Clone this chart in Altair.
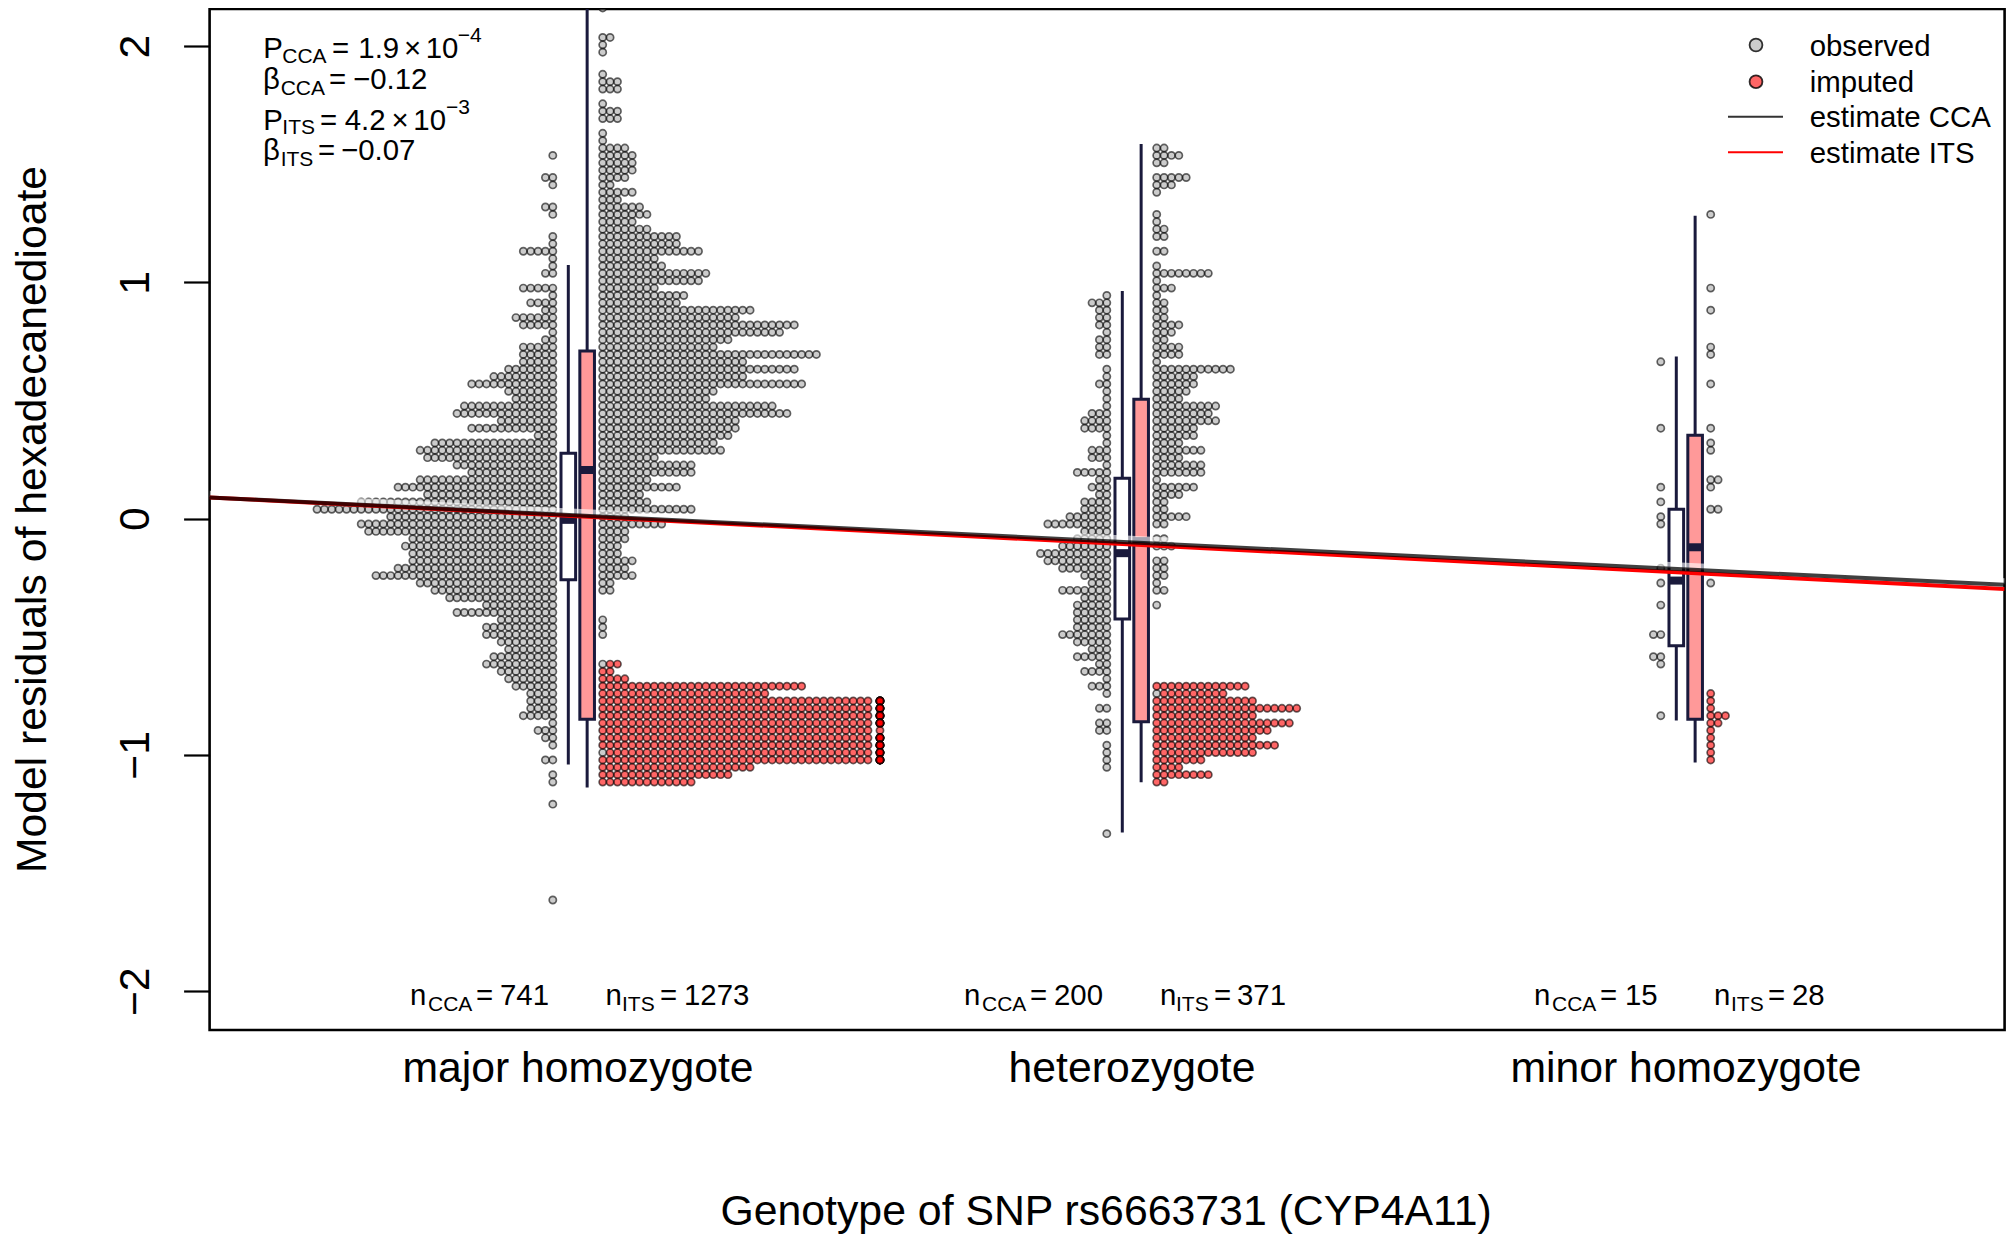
import altair as alt
import pandas as pd

alt.data_transformers.disable_max_rows()

# Bin grid of the dot stacks (value of bin 0 and height of one bin)
BIN_ZERO = 0.0398
BIN_WIDTH = 0.0312

categories = ["major homozygote", "heterozygote", "minor homozygote"]

# bin index -> number of dots
major_obs_left = {48:1,45:2,44:1,41:2,40:1,37:1,36:1,35:5,34:1,33:1,32:2,30:5,29:1,28:4,27:2,26:6,25:5,24:1,23:2,22:5,21:5,20:5,
    19:7,18:9,17:12,16:7,15:6,14:13,13:14,12:8,11:12,10:3,9:17,8:19,7:18,6:14,5:12,4:19,3:22,2:18,1:27,0:33,-1:23,-2:27,-3:26,
    -4:20,-5:21,-6:20,-7:20,-8:22,-9:25,-10:19,-11:17,-12:15,-13:10,-14:14,-15:8,-16:10,-17:10,-18:8,-19:7,-20:9,-21:10,-22:8,
    -23:7,-24:6,-25:4,-26:4,-27:4,-28:5,-29:1,-30:3,-31:2,-32:1,-34:2,-36:1,-37:1,-40:1,-53:1}
major_obs_right = {68:1,64:2,63:1,62:1,59:1,58:3,57:3,55:1,54:3,53:3,51:1,50:1,49:4,48:5,47:5,46:5,45:4,44:2,43:5,42:3,41:6,40:7,
    39:5,38:7,37:11,36:11,35:14,34:8,33:9,32:15,31:14,30:8,29:12,28:11,27:21,26:19,25:27,24:25,23:18,22:16,21:30,20:20,19:27,
    18:20,17:28,16:16,15:15,14:24,13:26,12:19,11:19,10:18,9:16,8:17,7:8,6:13,5:13,4:7,3:11,2:6,1:7,0:13,-1:4,-2:9,-3:4,-4:4,
    -5:3,-6:3,-7:5,-8:4,-9:5,-10:2,-11:2,-15:1,-16:1,-17:1,-21:1,-33:1}
major_imp = {-21:2,-22:2,-23:4,-24:28,-25:23,-26:37,-27:37,-28:37,-29:37,-30:37,-31:37,-32:37,-33:36,-34:37,-35:21,-36:18,-37:13}
major_overflow = {-26:7,-27:7,-28:7,-29:7,-30:1,-31:7,-32:7,-33:7,-34:7}

het_obs_left = {29:1,28:3,27:2,26:2,25:2,24:1,23:2,22:2,21:2,19:1,18:1,17:2,16:1,15:1,14:1,13:3,12:4,11:4,10:1,9:1,8:3,7:3,6:1,
    5:5,4:2,3:3,2:2,1:4,0:4,-1:6,-2:9,-3:4,-4:5,-5:7,-6:10,-7:9,-8:7,-9:4,-10:3,-11:7,-12:4,-13:5,-14:5,-15:5,-16:5,-17:7,-18:5,
    -19:3,-20:5,-21:2,-22:4,-23:1,-24:3,-25:1,-27:2,-29:2,-30:2,-32:1,-33:1,-34:1,-35:1,-44:1}
het_obs_right = {49:2,48:4,47:2,45:5,44:3,43:1,40:1,39:1,38:2,37:2,35:2,33:1,32:8,31:1,30:3,29:1,28:2,27:2,26:2,25:4,24:3,23:2,
    22:4,21:4,20:1,19:11,18:6,17:6,16:5,15:4,14:9,13:8,12:9,11:6,10:6,9:4,8:7,7:4,6:7,5:7,4:1,3:6,2:4,1:2,0:2,-1:5,-2:2,-4:2,-5:3,
    -7:2,-8:2,-9:2,-10:1,-11:2,-13:1,-25:1}
het_imp = {-24:13,-25:9,-26:14,-27:20,-28:14,-29:19,-30:16,-31:14,-32:17,-33:14,-34:7,-35:4,-36:8,-37:2}

minor_obs_left = {20:1,11:1,3:1,1:1,-1:1,-2:1,-8:1,-10:1,-13:1,-17:2,-20:2,-21:1,-28:1}
minor_obs_right = {40:1,30:1,27:1,22:1,21:1,17:1,11:1,9:1,8:1,4:2,3:1,0:2,-10:1}
minor_imp = {-25:1,-26:1,-27:1,-28:3,-29:2,-30:1,-31:1,-32:1,-33:1,-34:1}

# box summaries: CCA then ITS for each genotype
box_group = [1, 1, 2, 2, 3, 3]
box_kind = ["CCA", "ITS", "CCA", "ITS", "CCA", "ITS"]
whisker_top = [1.067, 2.5, 0.957, 1.579, 0.680, 1.276]
box_q3 = [0.277, 0.710, 0.171, 0.505, 0.040, 0.353]
box_median = [-0.005, 0.206, -0.146, -0.095, -0.262, -0.121]
box_q1 = [-0.259, -0.849, -0.425, -0.859, -0.538, -0.849]
whisker_bottom = [-1.034, -1.131, -1.322, -1.109, -0.848, -1.026]

line_x = [0.3359, 3.576]
line_cca = [0.090, -0.280]
line_its = [0.090, -0.298]
line_halo = [0.105, -0.265]

X_DOMAIN = line_x
Y_DOMAIN = [-2.164, 2.157]
PLOT_W, PLOT_H = 1795, 1021
OX, OY = 209.6, 9

COL = 0.0133
LEFT0, RIGHT0 = -0.0446, 0.0455
OVERFLOW = 0.546
CCA_DX, ITS_DX, HALF = -0.0166, 0.0174, 0.0132
NAVY = "#1a1a3c"
FONT = "Liberation Sans"

rows = []
def stack(group, counts, start, sign, kind, base=None):
    for b, n in counts.items():
        first = base.get(b, 0) if base else 0
        for i in range(n):
            rows.append({"x": group + sign * (start + (first + i) * COL),
                         "y": BIN_ZERO + BIN_WIDTH * b, "kind": kind})

stack(1, major_obs_left, -LEFT0, -1, "observed")
stack(1, major_obs_right, RIGHT0, 1, "observed")
stack(1, major_imp, RIGHT0, 1, "imputed", major_obs_right)
stack(2, het_obs_left, -LEFT0, -1, "observed")
stack(2, het_obs_right, RIGHT0, 1, "observed")
stack(2, het_imp, RIGHT0, 1, "imputed", het_obs_right)
stack(3, minor_obs_left, -LEFT0, -1, "observed")
stack(3, minor_obs_right, RIGHT0, 1, "observed")
stack(3, minor_imp, RIGHT0, 1, "imputed", minor_obs_right)
for b, n in major_overflow.items():
    for _ in range(n):
        rows.append({"x": 1 + OVERFLOW, "y": BIN_ZERO + BIN_WIDTH * b, "kind": "imputed"})
dots = pd.DataFrame(rows)

boxes = pd.DataFrame({"g": box_group, "kind": box_kind, "wt": whisker_top, "q3": box_q3,
                      "med": box_median, "q1": box_q1, "wb": whisker_bottom})
boxes["cx"] = boxes.g + boxes.kind.map({"CCA": CCA_DX, "ITS": ITS_DX})
boxes["x1"] = boxes.cx - HALF
boxes["x2"] = boxes.cx + HALF

xs = alt.Scale(domain=X_DOMAIN, nice=False, zero=False)
ys = alt.Scale(domain=Y_DOMAIN, nice=False, zero=False)

label_expr = "[" + ",".join(f"'{c}'" for c in categories) + "][datum.value-1]"
X = alt.X("x:Q", scale=xs, axis=alt.Axis(values=[1, 2, 3], labelExpr=label_expr, ticks=False, domain=False,
          grid=False, labelFontSize=42.7, labelFont=FONT, labelColor="black", labelPadding=18, labelOverlap=False,
          labelLimit=800, title="Genotype of SNP rs6663731 (CYP4A11)", titleFontSize=42.8, titleFont=FONT,
          titleFontWeight="normal", titleColor="black", titleX=896, titleY=195, titleAlign="center",
          titleAnchor="middle", titleBaseline="alphabetic"))
Y = alt.Y("y:Q", scale=ys, axis=alt.Axis(values=[-2, -1, 0, 1, 2], labelAngle=270, labelAlign="center",
          labelBaseline="alphabetic",
          labelExpr="datum.value < 0 ? '\u2212' + abs(datum.value) : '' + datum.value",
          tickSize=26, tickWidth=2.2, tickColor="black", domain=False, grid=False, labelFontSize=42.7, labelFont=FONT,
          labelColor="black", labelPadding=35, title="Model residuals of hexadecanedioate", titleFontSize=42.7,
          titleFont=FONT, titleFontWeight="normal", titleColor="black", titleX=-164, titleY=510, titleAngle=270,
          titleAlign="center", titleAnchor="middle", titleBaseline="alphabetic"))

def pts(kind, color, op):
    return alt.Chart(dots[dots.kind == kind]).mark_point(
        shape="circle", filled=False, fill=color, fillOpacity=op, stroke="black", strokeOpacity=0.6,
        strokeWidth=1.7, size=52, clip=True).encode(x=X, y=Y)

observed = pts("observed", "#808080", 0.4)
imputed = pts("imputed", "#ff0000", 0.6)

whisk = alt.Chart(boxes).mark_rule(color=NAVY, strokeWidth=3, strokeCap="square", clip=True).encode(
    x=alt.X("cx:Q", scale=xs), y=alt.Y("wb:Q", scale=ys), y2="wt:Q")
rect = alt.Chart(boxes).mark_rect(stroke=NAVY, strokeWidth=3, clip=True).encode(
    x=alt.X("x1:Q", scale=xs), x2="x2:Q", y=alt.Y("q1:Q", scale=ys), y2="q3:Q",
    fill=alt.Fill("kind:N", scale=alt.Scale(domain=["CCA", "ITS"], range=["#ffffff", "#ff9999"]), legend=None))
med = alt.Chart(boxes).mark_rule(color=NAVY, strokeWidth=8).encode(
    x=alt.X("x1:Q", scale=xs), x2="x2:Q", y=alt.Y("med:Q", scale=ys))

def rline(vals, color, width, op):
    df = pd.DataFrame({"x": line_x, "y": vals})
    return alt.Chart(df).mark_line(color=color, strokeWidth=width, opacity=op, clip=True).encode(
        x=alt.X("x:Q", scale=xs), y=alt.Y("y:Q", scale=ys))

lines = [rline(line_halo, "white", 6, 0.6), rline(line_its, "#ff0000", 4, 1), rline(line_cca, "black", 4, 0.75)]

layers = [observed, imputed, whisk, rect, med] + lines

def note(text, x, y, size=29.4):
    return alt.Chart(pd.DataFrame({"t": [text]})).mark_text(
        text=text, font=FONT, fontSize=size, align="left", baseline="alphabetic", color="black"
    ).encode(x=alt.value(x - OX), y=alt.value(y - OY))

SUB = 21
MAIN = 29.4
stats = [
    ("P", 263.3, 57.7, MAIN), ("CCA", 282.3, 62.7, SUB), ("=", 332, 57.7, MAIN), ("1.9", 358.3, 57.7, MAIN),
    ("\u00d7", 404, 57.7, MAIN), ("10", 425.7, 57.7, MAIN), ("\u22124", 457.7, 41.7, SUB),
    ("\u03b2", 263, 89.3, MAIN), ("CCA", 280.7, 95, SUB), ("=", 329, 89.3, MAIN), ("\u22120.12", 353, 89.3, MAIN),
    ("P", 263.3, 130.3, MAIN), ("ITS", 282.3, 134.3, SUB), ("=", 320, 130.3, MAIN), ("4.2", 344.7, 130.3, MAIN),
    ("\u00d7", 391.5, 130.3, MAIN), ("10", 413.3, 130.3, MAIN), ("\u22123", 446, 114, SUB),
    ("\u03b2", 263, 160, MAIN), ("ITS", 280.7, 166.2, SUB), ("=", 318, 160, MAIN), ("\u22120.07", 341, 160, MAIN),
]
counts = [
    ("n", 410, 1005, MAIN), ("CCA", 428, 1011, SUB), ("=", 476, 1005, MAIN), ("741", 500, 1005, MAIN),
    ("n", 605.6, 1005, MAIN), ("ITS", 622, 1011, SUB), ("=", 660, 1005, MAIN), ("1273", 684, 1005, MAIN),
    ("n", 964, 1005, MAIN), ("CCA", 982, 1011, SUB), ("=", 1030, 1005, MAIN), ("200", 1054, 1005, MAIN),
    ("n", 1160, 1005, MAIN), ("ITS", 1176, 1011, SUB), ("=", 1214, 1005, MAIN), ("371", 1237, 1005, MAIN),
    ("n", 1534, 1005, MAIN), ("CCA", 1552, 1011, SUB), ("=", 1600, 1005, MAIN), ("15", 1625, 1005, MAIN),
    ("n", 1714, 1005, MAIN), ("ITS", 1731, 1011, SUB), ("=", 1768, 1005, MAIN), ("28", 1792, 1005, MAIN),
]
legend_text = [("observed", 1809.7, 56, MAIN), ("imputed", 1809.7, 91.7, MAIN),
               ("estimate CCA", 1809.7, 127, MAIN), ("estimate ITS", 1809.7, 162.7, MAIN)]

layers += [note(*p) for p in stats + counts + legend_text]

def legend_dot(color, y):
    return alt.Chart(pd.DataFrame({"a": [0]})).mark_point(
        shape="circle", filled=False, fill=color, fillOpacity=1, stroke="black", strokeOpacity=0.8, strokeWidth=1.8, size=165
    ).encode(x=alt.value(1756 - OX), y=alt.value(y - OY))

def legend_line(color, y):
    return alt.Chart(pd.DataFrame({"a": [0]})).mark_rule(color=color, strokeWidth=2).encode(
        x=alt.value(1728 - OX), x2=alt.value(1783 - OX), y=alt.value(y - OY))

layers += [legend_dot("#cccccc", 45), legend_dot("#ff6666", 81.7),
           legend_line("#333333", 116.7), legend_line("#ff0000", 152.3)]

chart = alt.layer(*layers).properties(
    width=PLOT_W, height=PLOT_H, autosize=alt.AutoSizeParams(type="none"),
    padding={"left": OX - 8, "top": OY - 8, "right": 3, "bottom": 205},
).configure_view(stroke="black", strokeWidth=2.6).resolve_scale(fill="independent")

chart.save("out.html", embed_options={"renderer": "svg", "actions": False})
